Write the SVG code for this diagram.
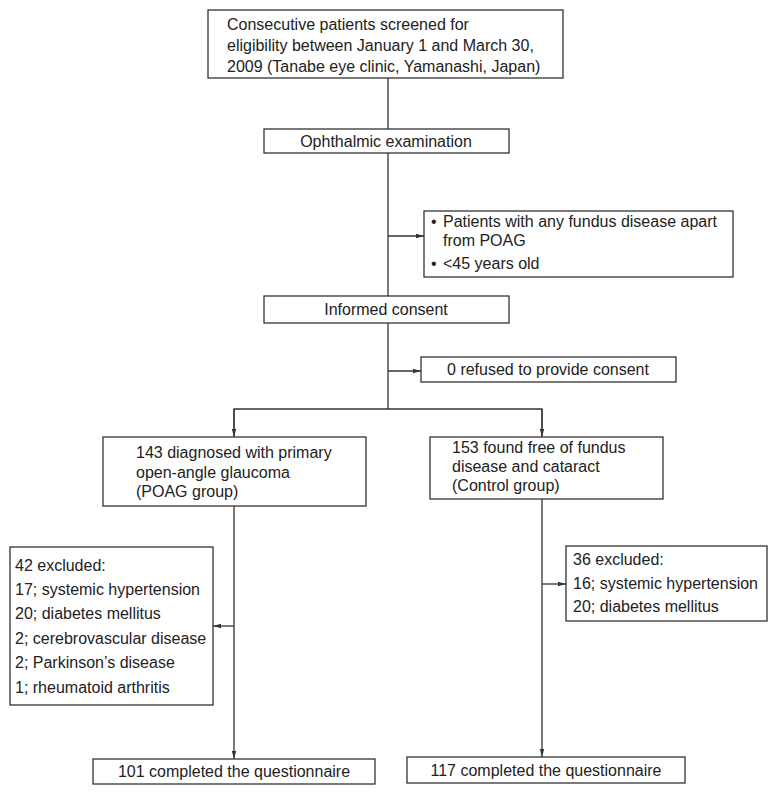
<svg xmlns="http://www.w3.org/2000/svg" width="777" height="794" viewBox="0 0 777 794">
<defs>
<style>
.box{fill:#fff;stroke:#333;stroke-width:1.3}
.t{font-family:"Liberation Sans",Arial,sans-serif;font-size:16px;fill:#222}
.c{text-anchor:middle}
.ln{fill:none;stroke:#333;stroke-width:1.3}
</style>
<marker id="ah" viewBox="0 0 8 6" refX="8" refY="3" markerWidth="8" markerHeight="6" markerUnits="userSpaceOnUse" orient="auto">
<path d="M0,0.8 L8,3 L0,5.2 Z" fill="#333"/>
</marker>
</defs>
<rect width="777" height="794" fill="#fff"/>
<g id="connectors">
<line class="ln" x1="388" y1="78" x2="388" y2="129"/>
<line class="ln" x1="388" y1="153" x2="388" y2="296"/>
<line class="ln" x1="388" y1="236" x2="424" y2="236" marker-end="url(#ah)"/>
<line class="ln" x1="388" y1="323" x2="388" y2="409"/>
<line class="ln" x1="388" y1="371" x2="421" y2="371" marker-end="url(#ah)"/>
<polyline class="ln" points="234,436 234,409 542,409 542,436"/>
<line class="ln" x1="234" y1="409" x2="234" y2="437" marker-end="url(#ah)"/>
<line class="ln" x1="542" y1="409" x2="542" y2="437" marker-end="url(#ah)"/>
<line class="ln" x1="234" y1="506" x2="234" y2="759" marker-end="url(#ah)"/>
<line class="ln" x1="234" y1="626" x2="213" y2="626" marker-end="url(#ah)"/>
<line class="ln" x1="542" y1="499" x2="542" y2="757" marker-end="url(#ah)"/>
<line class="ln" x1="542" y1="584" x2="566" y2="584" marker-end="url(#ah)"/>
</g>
<g id="screened">
<rect class="box" x="208" y="10" width="355" height="68"/>
<text class="t" x="227" y="30">Consecutive patients screened for</text>
<text class="t" x="227" y="51">eligibility between January 1 and March 30,</text>
<text class="t" x="227" y="72">2009 (Tanabe eye clinic, Yamanashi, Japan)</text>
</g>
<g id="ophthalmic">
<rect class="box" x="264" y="129" width="245" height="24"/>
<text class="t c" x="386" y="147">Ophthalmic examination</text>
</g>
<g id="excl1">
<rect class="box" x="424" y="211" width="309" height="66"/>
<text class="t" x="431" y="227">•</text>
<text class="t" x="443" y="227">Patients with any fundus disease apart</text>
<text class="t" x="443" y="246">from POAG</text>
<text class="t" x="431" y="269">•</text>
<text class="t" x="443" y="269">&lt;45 years old</text>
</g>
<g id="consent">
<rect class="box" x="264" y="296" width="245" height="27"/>
<text class="t c" x="386" y="315">Informed consent</text>
</g>
<g id="refused">
<rect class="box" x="421" y="357" width="255" height="25"/>
<text class="t c" x="548" y="375">0 refused to provide consent</text>
</g>
<g id="poag">
<rect class="box" x="103" y="437" width="263" height="69"/>
<text class="t" x="136" y="458">143 diagnosed with primary</text>
<text class="t" x="136" y="478">open-angle glaucoma</text>
<text class="t" x="136" y="497">(POAG group)</text>
</g>
<g id="control">
<rect class="box" x="430" y="437" width="233" height="62"/>
<text class="t" x="452" y="453">153 found free of fundus</text>
<text class="t" x="452" y="472">disease and cataract</text>
<text class="t" x="452" y="491">(Control group)</text>
</g>
<g id="excl-poag">
<rect class="box" x="10" y="547" width="203" height="158"/>
<text class="t" x="15" y="571">42 excluded:</text>
<text class="t" x="15" y="595">17; systemic hypertension</text>
<text class="t" x="15" y="619">20; diabetes mellitus</text>
<text class="t" x="15" y="644">2; cerebrovascular disease</text>
<text class="t" x="15" y="668">2; Parkinson’s disease</text>
<text class="t" x="15" y="693">1; rheumatoid arthritis</text>
</g>
<g id="excl-control">
<rect class="box" x="566" y="546" width="201" height="75"/>
<text class="t" x="573" y="565">36 excluded:</text>
<text class="t" x="573" y="589">16; systemic hypertension</text>
<text class="t" x="573" y="612">20; diabetes mellitus</text>
</g>
<g id="done-poag">
<rect class="box" x="93" y="759" width="282" height="25"/>
<text class="t c" x="234" y="777">101 completed the questionnaire</text>
</g>
<g id="done-control">
<rect class="box" x="407" y="757" width="278" height="26"/>
<text class="t c" x="546" y="776">117 completed the questionnaire</text>
</g>
</svg>
